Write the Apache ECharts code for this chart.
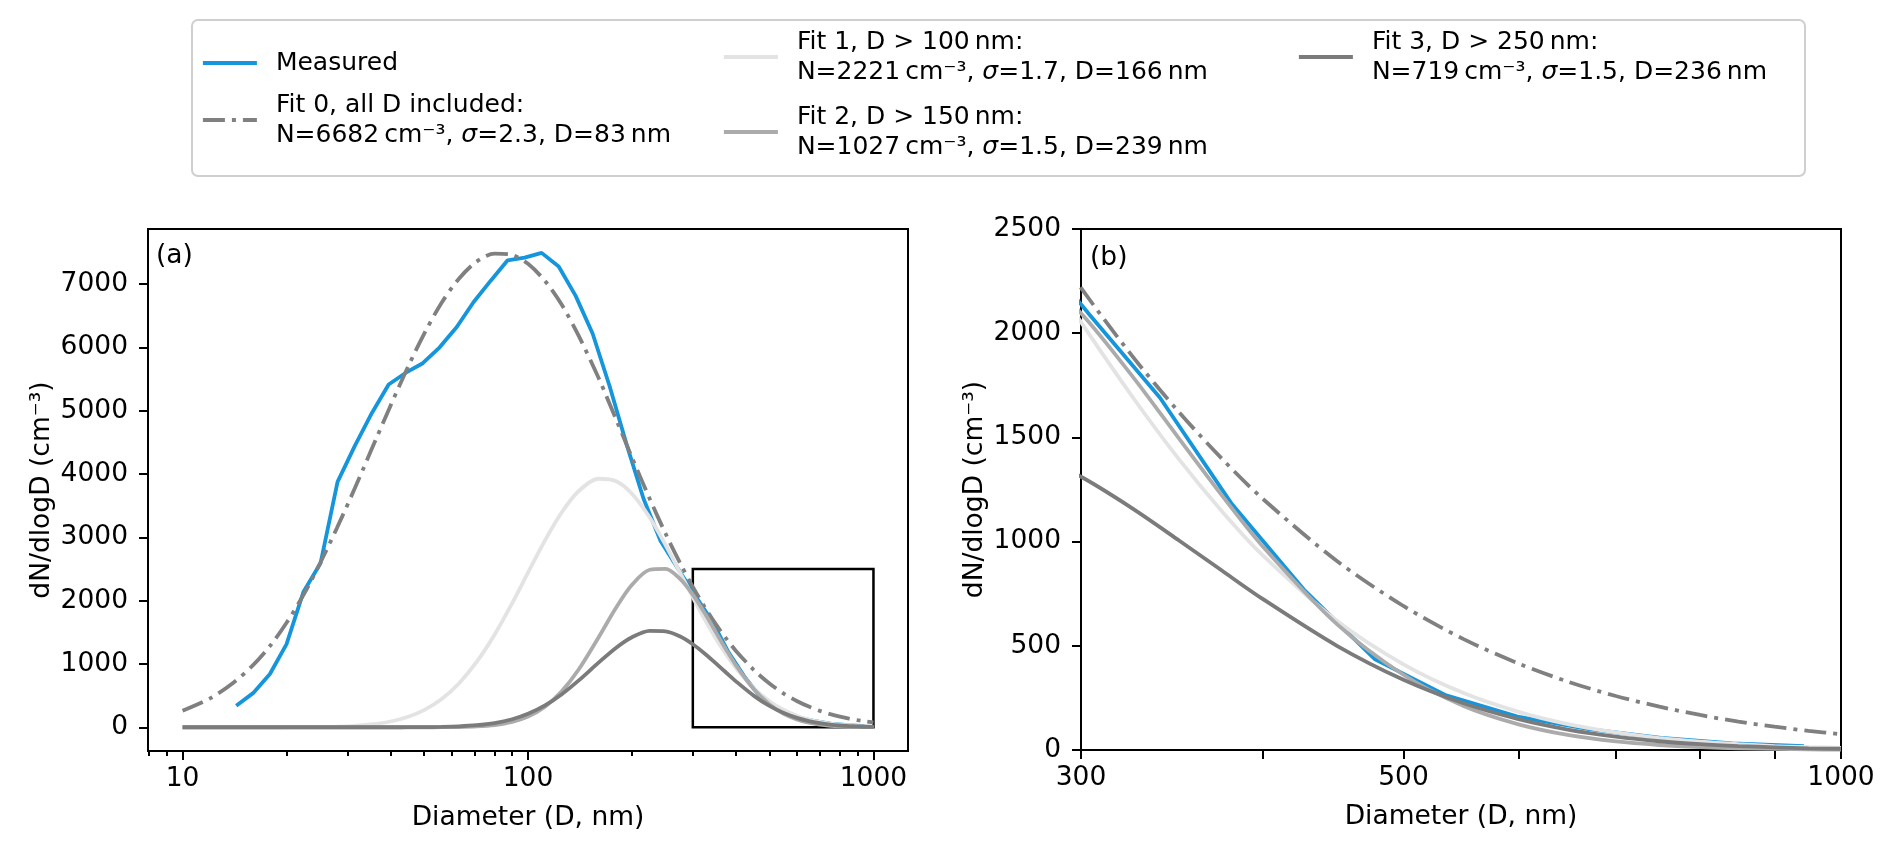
<!DOCTYPE html>
<html>
<head>
<meta charset="utf-8">
<title>Size distribution and lognormal fits</title>
<script src="https://cdn.jsdelivr.net/npm/echarts@6/dist/echarts.min.js"></script>
<style>
  html, body { margin: 0; padding: 0; background: #fff; }
  #chart { width: 1892px; height: 849px; }
</style>
</head>
<body>
<div id="chart"></div>
<script>
// measured distribution, bin diameters in nm and dN/dlogD in cm-3
const measuredD = [14.3, 16.0, 17.9, 20.0, 22.4, 25.1, 28.1, 31.5, 35.3, 39.5, 44.3, 49.6, 55.5, 62.2, 69.6, 78.0,
  87.3, 97.8, 109.5, 122.7, 137.4, 153.9, 172.4, 193, 216, 242, 271, 304, 340, 381, 427, 478, 535, 599, 671, 752, 842, 943];
const measuredN = [341, 539, 842, 1313, 2141, 2595, 3876, 4440, 4960, 5414, 5600, 5750, 6002, 6322, 6717, 7054,
  7375, 7417, 7493, 7278, 6814, 6215, 5382, 4464, 3610, 2942, 2515, 2090, 1690, 1180, 770, 435, 262, 160, 100, 58, 32, 18];

const fitD = [10, 12, 14, 16, 18, 20, 22.5, 25, 28, 31.5, 35, 40, 45, 50, 56, 63, 71, 80, 90, 100, 112, 125, 140,
  160, 180, 200, 225, 250, 275, 300, 325, 350, 375, 400, 450, 500, 550, 600, 650, 700, 750, 800, 850, 900, 950, 1000];
const fit0N = [262, 455, 698, 982, 1299, 1650, 2110, 2590, 3150, 3770, 4350, 5080, 5700, 6210, 6690, 7080, 7355, 7480,
  7460, 7320, 7050, 6680, 6190, 5520, 4860, 4260, 3610, 3062, 2603, 2218, 1895, 1625, 1398, 1206, 907, 691, 532, 415,
  326, 259, 208, 168, 136, 112, 92, 76];
const fit1N = [0, 0, 0, 0, 0, 1, 2, 5, 11, 23, 44, 91, 166, 271, 439, 688, 1031, 1462, 1961, 2442, 2951, 3388, 3728,
  3925, 3887, 3689, 3314, 2882, 2451, 2053, 1701, 1399, 1146, 935, 620, 411, 273, 183, 123, 84, 57, 40, 28, 19, 14, 10];
const fit2N = [0, 0, 0, 0, 0, 0, 0, 0, 0, 0, 0, 0, 0, 0, 1, 4, 13, 35, 84, 168, 325, 563, 908,
  1419, 1892, 2250, 2488, 2502, 2349, 2096, 1799, 1499, 1222, 978, 604, 361, 211, 123, 71, 41, 24, 14, 8, 5, 3, 2];
const fit3N = [0, 0, 0, 0, 0, 0, 0, 0, 0, 0, 0, 0, 1, 2, 6, 14, 32, 66, 126, 212, 345, 518, 736,
  1020, 1257, 1422, 1521, 1516, 1437, 1311, 1162, 1008, 861, 725, 500, 337, 224, 148, 97, 64, 42, 28, 19, 13, 8, 6];

const seriesNames = ['Measured', 'Fit 0', 'Fit 1', 'Fit 2', 'Fit 3'];
const legendText = [
  'Measured',
  'Fit 0, all D included:\nN=6682\u2009cm⁻³, σ=2.3, D=83\u2009nm',
  'Fit 1, D > 100\u2009nm:\nN=2221\u2009cm⁻³, σ=1.7, D=166\u2009nm',
  'Fit 2, D > 150\u2009nm:\nN=1027\u2009cm⁻³, σ=1.5, D=239\u2009nm',
  'Fit 3, D > 250\u2009nm:\nN=719\u2009cm⁻³, σ=1.5, D=236\u2009nm'
];

// panel (a): full range, log diameter axis
const xRangeA = [7.943, 1258.9];
const xTicksA = [10, 100, 1000];
const xMinorA = [8, 9, 20, 30, 40, 50, 60, 70, 80, 90, 200, 300, 400, 500, 600, 700, 800, 900];
const yRangeA = [-375, 7870];
const yTicksA = [0, 1000, 2000, 3000, 4000, 5000, 6000, 7000];
// zoom box drawn in (a), shown enlarged in (b)
const insetD = [300, 1000];
const insetN = [0, 2500];
// panel (b)
const xRangeB = [300, 1000];
const xTicksB = [300, 400, 500, 600, 700, 800, 900, 1000];
const xLabelsB = [300, 500, 1000];
const yRangeB = [0, 2500];
const yTicksB = [0, 500, 1000, 1500, 2000, 2500];

const COLORS = ['#1495dc', '#808080', '#e3e3e3', '#ababab', '#7b7b7b'];
const DASHDOT = [22, 7, 4, 7];
const LW = 3.8;
const FONT = 'DejaVu Sans';
const FS = 25;      // legend text
const AXIS_FS = 26.5;

const chart = echarts.init(document.getElementById('chart'));

function toXY(dList, nList) {
  return dList.map((d, i) => [Math.log10(d), nList[i]]);
}

function richLabel(text) {
  return text.split('\n').map(line =>
    line.split('σ').map(part => (part ? '{t|' + part + '}' : '')).join('{i|σ}')
  ).join('\n');
}

function lineSeries(k, dList, nList, panel) {
  return {
    type: 'line',
    name: seriesNames[k],
    xAxisIndex: panel === 0 ? 0 : 2,
    yAxisIndex: panel,
    data: toXY(dList, nList),
    symbol: 'none',
    smooth: k === 0 ? false : 0.3,
    lineStyle: { color: COLORS[k], width: LW, type: k === 1 ? DASHDOT : 'solid', cap: 'butt' },
    itemStyle: { color: COLORS[k] },
    emphasis: { disabled: true },
    silent: true
  };
}

const tickText = { fontFamily: FONT, fontSize: AXIS_FS, color: '#000' };
const blackLine = { color: '#000', width: 2 };

function xAxisFor(gridIndex, range, ticks, labels, tickLen, withLine) {
  return {
    type: 'value',
    gridIndex: gridIndex,
    position: 'bottom',
    min: Math.log10(range[0]),
    max: Math.log10(range[1]),
    axisLine: { show: withLine, onZero: false, lineStyle: blackLine },
    axisTick: { show: true, length: tickLen, customValues: ticks.map(Math.log10), lineStyle: blackLine },
    axisLabel: labels ? Object.assign({
      customValues: labels.map(Math.log10),
      margin: 15,
      formatter: v => String(Math.round(Math.pow(10, v)))
    }, tickText) : { show: false },
    splitLine: { show: false },
    name: withLine ? 'Diameter (D, nm)' : '',
    nameLocation: 'middle',
    nameGap: 54,
    nameTextStyle: tickText
  };
}

function yAxisFor(gridIndex, range, ticks) {
  return {
    type: 'value',
    gridIndex: gridIndex,
    min: range[0],
    max: range[1],
    axisLine: { show: true, onZero: false, lineStyle: blackLine },
    axisTick: { show: true, length: 9, customValues: ticks, lineStyle: blackLine },
    axisLabel: Object.assign({ customValues: ticks, margin: 20, formatter: v => String(v) }, tickText),
    splitLine: { show: false },
    name: 'dN/dlogD (cm⁻³)',
    nameLocation: 'middle',
    nameRotate: 90,
    nameGap: 92,
    nameTextStyle: tickText
  };
}

function makeLegend(keys, left, top, gap) {
  return {
    data: keys.map(k => seriesNames[k]),
    orient: 'vertical',
    left: left,
    top: top,
    padding: 0,
    itemGap: gap,
    itemWidth: 54,
    itemHeight: 14,
    selectedMode: false,
    itemStyle: { opacity: 0, borderWidth: 0 },
    lineStyle: { width: LW },
    textStyle: {
      fontFamily: FONT, fontSize: FS, color: '#000', lineHeight: 30, padding: [0, 0, 0, 14],
      rich: {
        t: { fontFamily: FONT, fontSize: FS, color: '#000', lineHeight: 30 },
        i: { fontFamily: FONT, fontSize: FS, color: '#000', lineHeight: 30, fontStyle: 'italic' }
      }
    },
    formatter: name => richLabel(legendText[seriesNames.indexOf(name)])
  };
}

function makeOption() {
  const fits = [fit0N, fit1N, fit2N, fit3N];
  const series = [];
  [0, 1].forEach(panel => {
    const measured = lineSeries(0, measuredD, measuredN, panel);
    if (panel === 0) {
      measured.markArea = {
        silent: true,
        label: { show: false },
        itemStyle: { color: 'rgba(0,0,0,0)', borderColor: '#000', borderWidth: 2.5 },
        data: [[
          { coord: [Math.log10(insetD[0]), insetN[0]] },
          { coord: [Math.log10(insetD[1]), insetN[1]] }
        ]]
      };
    }
    series.push(measured);
    fits.forEach((vals, i) => series.push(lineSeries(i + 1, fitD, vals, panel)));
  });

  return {
    animation: false,
    backgroundColor: '#fff',
    textStyle: { fontFamily: FONT },
    grid: [
      { left: 148, top: 229, width: 760, height: 522, show: true, borderColor: '#000', borderWidth: 2, containLabel: false },
      { left: 1081, top: 229, width: 760, height: 521, show: true, borderColor: '#000', borderWidth: 2, containLabel: false }
    ],
    xAxis: [
      xAxisFor(0, xRangeA, xTicksA, xTicksA, 9, true),
      xAxisFor(0, xRangeA, xMinorA, null, 5, false),
      xAxisFor(1, xRangeB, xTicksB, xLabelsB, 9, true)
    ],
    yAxis: [
      yAxisFor(0, yRangeA, yTicksA),
      yAxisFor(1, yRangeB, yTicksB)
    ],
    legend: [
      makeLegend([0, 1], 201, 48, 12),
      makeLegend([2, 3], 722, 27, 15),
      makeLegend([4], 1297, 27, 0)
    ],
    graphic: [
      {
        type: 'rect', left: 191, top: 19, z: 0,
        shape: { width: 1613, height: 156, r: 6 },
        style: { fill: '#fff', stroke: '#cfcfcf', lineWidth: 2 }
      },
      { type: 'text', left: 156, top: 243, z: 10, style: { text: '(a)', font: AXIS_FS + 'px ' + FONT, fill: '#000' } },
      { type: 'text', left: 1090, top: 245, z: 10, style: { text: '(b)', font: AXIS_FS + 'px ' + FONT, fill: '#000' } }
    ],
    series: series
  };
}

chart.setOption(makeOption());
</script>
</body>
</html>
